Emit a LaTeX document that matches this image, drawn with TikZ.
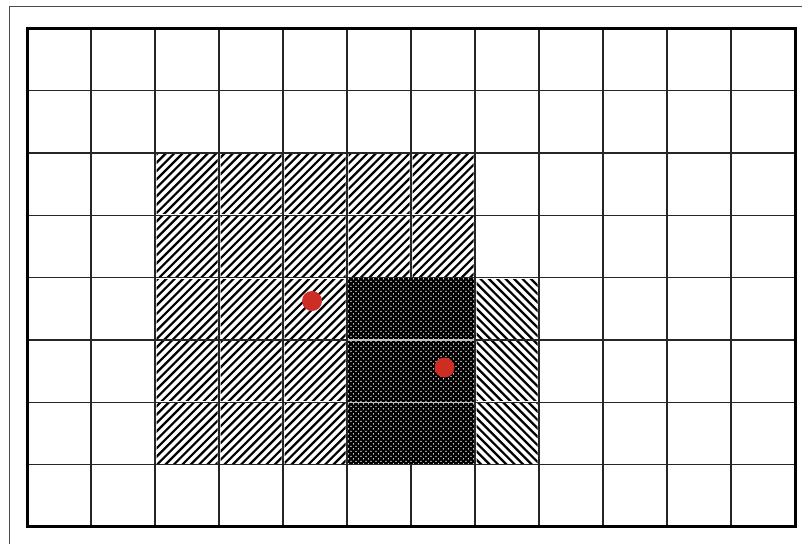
\documentclass[tikz,border=0pt]{standalone}
\begin{document}
\begin{tikzpicture}[x=1pt,y=-1pt,
  gridline/.style={line width=1.3pt, draw=black!85},
  frame/.style={line width=3pt, draw=black},
  outerframe/.style={line width=1pt, draw=black!70},
  hatchline/.style={line width=2.2pt, draw=black},
  dotgap/.style={line width=1.6pt, draw=black!25},
  whitedot/.style={fill=white},
  reddot/.style={fill={rgb,255:red,205;green,45;blue,35}}
]
\useasboundingbox (0,0) rectangle (802,543);
\clip (0,0) rectangle (802,543);
\fill[white] (0,0) rectangle (802,543);
\def\xo{27}\def\dx{64}\def\yo{28.5}\def\dy{62.3}\def\hp{8.4}
% outer frame (extends beyond picture)
\draw[outerframe] (9,7) rectangle (830,570);
% north-east hatched cells
\foreach \c/\r in {2/2,3/2,4/2,5/2,6/2,2/3,3/3,4/3,5/3,6/3,2/4,3/4,4/4,2/5,3/5,4/5,2/6,3/6,4/6}{
  \begin{scope}
    \pgfmathsetmacro\xa{\xo+\c*\dx+1.5}\pgfmathsetmacro\xb{\xo+(\c+1)*\dx-1.5}
    \pgfmathsetmacro\ya{\yo+\r*\dy+1.5}\pgfmathsetmacro\yb{\yo+(\r+1)*\dy-1.5}
    \clip (\xa,\ya) rectangle (\xb,\yb);
    \pgfmathsetmacro\ks{floor((\xa+\ya)/\hp)-1}
    \pgfmathsetmacro\ke{ceil((\xb+\yb)/\hp)+1}
    \foreach \k in {\ks,...,\ke}{
      \draw[hatchline] ({\k*\hp-\ya+80},{\ya-80}) -- ({\k*\hp-\yb-80},{\yb+80});
    }
  \end{scope}
}
% north-west hatched cells
\foreach \r in {4,5,6}{
  \begin{scope}
    \pgfmathsetmacro\xa{\xo+7*\dx+1.5}\pgfmathsetmacro\xb{\xo+8*\dx-1.5}
    \pgfmathsetmacro\ya{\yo+\r*\dy+1.5}\pgfmathsetmacro\yb{\yo+(\r+1)*\dy-1.5}
    \clip (\xa,\ya) rectangle (\xb,\yb);
    \pgfmathsetmacro\ks{floor((\xa-\yb)/\hp)-1}
    \pgfmathsetmacro\ke{ceil((\xb-\ya)/\hp)+1}
    \foreach \k in {\ks,...,\ke}{
      \draw[hatchline] ({\k*\hp+\ya-80},{\ya-80}) -- ({\k*\hp+\yb+80},{\yb+80});
    }
  \end{scope}
}
% dotted dark block
\fill[black] ({\xo+5*\dx},{\yo+4*\dy}) rectangle ({\xo+7*\dx},{\yo+7*\dy});
\begin{scope}
  \clip ({\xo+5*\dx+1},{\yo+4*\dy+1}) rectangle ({\xo+7*\dx-1},{\yo+7*\dy-1});
  \foreach \j in {0,...,75}{
    \pgfmathsetmacro\yy{\yo+4*\dy+1.2+\j*2.5}
    \pgfmathsetmacro\off{mod(\j,2)*2.5}
    \foreach \i in {0,...,26}{
      \fill[whitedot] ({\xo+5*\dx+1.5+\off+\i*5},\yy) circle (0.7);
    }
  }
\end{scope}
\draw[dotgap] ({\xo+5*\dx},{\yo+5*\dy}) -- ({\xo+7*\dx},{\yo+5*\dy});
\draw[dotgap] ({\xo+5*\dx},{\yo+6*\dy}) -- ({\xo+7*\dx},{\yo+6*\dy});
% grid lines
\foreach \c in {1,...,11}{
  \draw[gridline] ({\xo+\c*\dx},\yo) -- ({\xo+\c*\dx},{\yo+4*\dy});
  \draw[gridline] ({\xo+\c*\dx},{\yo+7*\dy}) -- ({\xo+\c*\dx},{\yo+8*\dy});
}
\foreach \c in {1,2,3,4,5,7,8,9,10,11}{
  \draw[gridline] ({\xo+\c*\dx},{\yo+4*\dy}) -- ({\xo+\c*\dx},{\yo+7*\dy});
}
\foreach \r in {1,2,3,4,7}{
  \draw[gridline] (\xo,{\yo+\r*\dy}) -- ({\xo+12*\dx},{\yo+\r*\dy});
}
\foreach \r in {5,6}{
  \draw[gridline] (\xo,{\yo+\r*\dy}) -- ({\xo+5*\dx},{\yo+\r*\dy});
  \draw[gridline] ({\xo+7*\dx},{\yo+\r*\dy}) -- ({\xo+12*\dx},{\yo+\r*\dy});
}
\draw[frame] (\xo,\yo) rectangle ({\xo+12*\dx},{\yo+8*\dy});
% red points
\fill[reddot] (312,301) circle (10);
\fill[reddot] (444.5,367.5) circle (10);
\end{tikzpicture}
\end{document}
